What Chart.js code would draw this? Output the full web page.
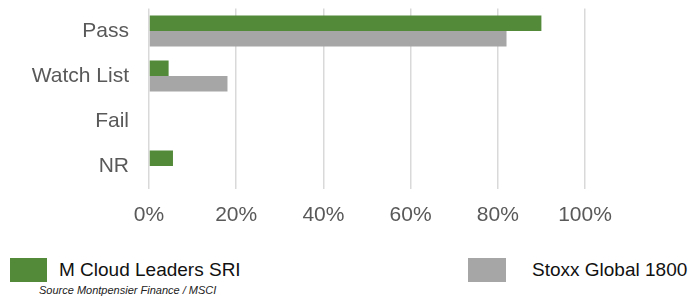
<!DOCTYPE html>
<html>
<head>
<meta charset="utf-8">
<script src="https://cdn.jsdelivr.net/npm/chart.js@4/dist/chart.umd.min.js"></script>
<style>
body{margin:0;background:#fff;font-family:"Liberation Sans",Arial,sans-serif;}
#wrap{position:relative;width:691px;height:300px;}
#chart{position:absolute;left:0;top:0;}
.leg{position:absolute;top:258px;height:24px;display:flex;align-items:center;font-size:19px;color:#111;}
.leg span.box{display:inline-block;width:37px;height:24px;margin-right:12px;}
.leg.l2 span.box{width:38px;margin-right:26px;}
#src{position:absolute;left:39px;top:284px;font-size:11px;font-style:italic;color:#222;}
</style>
</head>
<body>
<div id="wrap">
<canvas id="chart" width="691" height="230"></canvas>
<div id="legend"></div>
<div id="src">Source Montpensier Finance / MSCI</div>
</div>
<script>
// ================= DATA =================
const categories=["Pass","Watch List","Fail","NR"];
const fundLabel="M Cloud Leaders SRI";
const fundValues=[90,4.5,0,5.5];
const indexLabel="Stoxx Global 1800";
const indexValues=[82,18,0,0];
const xTicks=[0,20,40,60,80,100];

const green="#538a3a";
const gray="#a6a6a6";

// ================= CHART =================
let ctx=document.getElementById("chart").getContext("2d");
let chart=new Chart(ctx,{
type:'bar',
data:{
labels:categories,
datasets:[
{label:fundLabel,data:fundValues,backgroundColor:green},
{label:indexLabel,data:indexValues,backgroundColor:gray}
]
},
options:{
indexAxis:'y',
responsive:false,
animation:false,
categoryPercentage:0.69,
barPercentage:1,
layout:{padding:{top:8.5,right:106,left:0,bottom:0}},
plugins:{legend:{display:false},tooltip:{enabled:false}},
scales:{
x:{
min:0,max:100,
afterBuildTicks:s=>{s.ticks=xTicks.map(v=>({value:v}));},
afterFit:s=>{s.height=41.5;s.paddingLeft=0;},
grid:{color:"#d9d9d9",lineWidth:1.5,drawTicks:false},
border:{display:false},
ticks:{padding:14,color:"#595959",font:{family:"Liberation Sans",size:21},callback:v=>v+"%"}
},
y:{
afterFit:s=>{s.width=149;s.paddingTop=0;s.paddingBottom=0;},
grid:{display:false,drawTicks:false},
border:{display:false},
ticks:{padding:20,color:"#595959",font:{family:"Liberation Sans",size:21}}
}
}
}
});

// ================= LEGEND =================
let legend=document.getElementById("legend");
let legLeft=[10,468];
chart.data.datasets.forEach((d,i)=>{
legend.innerHTML+=`<div class="leg l${i+1}" style="left:${legLeft[i]}px"><span class="box" style="background:${d.backgroundColor}"></span>${d.label}</div>`;
});
</script>
</body>
</html>
